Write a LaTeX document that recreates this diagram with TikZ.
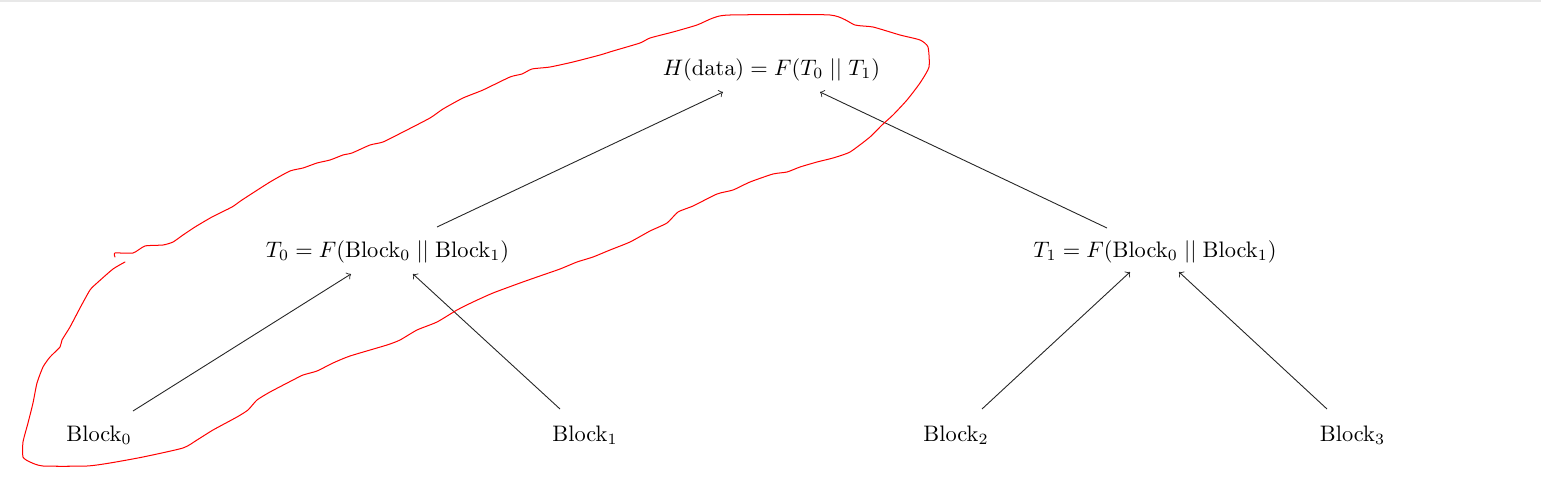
\documentclass[tikz,border=0pt]{standalone}
\usetikzlibrary{calc}
\begin{document}
\begin{tikzpicture}[x=0.4464pt,y=-0.4464pt,
  lbl/.style={anchor=base,inner sep=0pt,font=\normalsize},
  arr/.style={->,draw=black!85,line width=0.4pt},
  loop/.style={draw=red,line width=0.45pt,line join=round,line cap=round},
  rule/.style={draw=black!9,line width=0.7pt}]
\useasboundingbox (0,0) rectangle (1541,501);
\draw[rule] (0,0.75) -- (1541,0.75);
% nodes
\node[lbl] (top) at (771.5,75) {$H(\mathrm{data}) = F(T_0 \mid\mid T_1)$};
\node[lbl] (t0) at (387.5,257) {$T_0 = F(\mathrm{Block}_0 \mid\mid \mathrm{Block}_1)$};
\node[lbl] (t1) at (1155,257) {$T_1 = F(\mathrm{Block}_0 \mid\mid \mathrm{Block}_1)$};
\node[lbl] (b0) at (99,441) {Block$_0$};
\node[lbl] (b1) at (585,441) {Block$_1$};
\node[lbl] (b2) at (956,441) {Block$_2$};
\node[lbl] (b3) at (1352.5,441) {Block$_3$};
% connectors
\draw[arr] ($(b0.base)+(34,-30)$) -- ($(t0.base)+(-36.5,17)$);
\draw[arr] ($(b1.base)+(-25,-32)$) -- ($(t0.base)+(25.5,17)$);
\draw[arr] ($(b2.base)+(26,-32)$) -- ($(t1.base)+(-25,15)$);
\draw[arr] ($(b3.base)+(-25.5,-32)$) -- ($(t1.base)+(24,15)$);
\draw[arr] ($(t0.base)+(49.5,-30)$) -- ($(top.base)+(-48.5,17)$);
\draw[arr] ($(t1.base)+(-48,-29)$) -- ($(top.base)+(48.5,17)$);
% freehand loop
\draw[loop] plot[smooth,tension=0.35] coordinates {
(115,257) (115,253) (133,253) (145,246) (163,245) (173,242) (183,235)
(195,227) (212,217) (232,207) (242,200) (270,182) (290,171) (303,168)
(317,163) (330,160) (343,155) (352,153) (370,145) (383,142) (403,132)
(430,118) (443,109) (463,98) (483,90) (510,77) (522,74) (532,69)
(550,67) (573,62) (600,55) (613,51) (640,43) (650,38) (673,32) (697,25)
(713,18) (730,15) (830,15) (855,25) (873,27) (900,35) (920,40) (928,47)
(929,67) (920,83) (907,100) (893,115) (882,125) (870,137) (850,152)
(833,158) (817,162) (800,167) (787,172) (773,174) (750,182) (733,190)
(717,194) (693,206) (678,212) (667,223) (650,231) (630,242) (610,250)
(593,257) (577,262) (560,269) (537,277) (520,283) (493,293) (473,302)
(457,310) (437,322) (417,330) (400,340) (387,345) (350,356) (333,363)
(317,371) (303,375) (293,380) (270,392) (257,400) (248,410) (237,417)
(213,430) (197,440) (183,448) (143,457) (110,463) (87,466) (43,466)
(30,462) (23,457) (23,442) (28,423) (33,403) (37,383) (43,367) (50,357)
(60,347) (62,340) (70,327) (80,308) (90,290) (97,283) (113,269) (125,262)};
\end{tikzpicture}
\end{document}
